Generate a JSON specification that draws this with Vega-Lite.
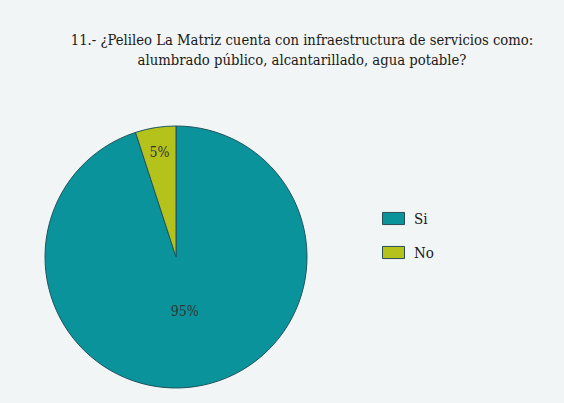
{
  "$schema": "https://vega.github.io/schema/vega-lite/v6.json",
  "width": 300,
  "height": 270,
  "autosize": {"type": "none"},
  "padding": {"left": 26, "top": 122, "right": 238, "bottom": 11},
  "background": "#f2f5f5",
  "title": {
    "text": ["11.- ¿Pelileo La Matriz cuenta con infraestructura de servicios como:", "alumbrado público, alcantarillado, agua potable?"],
    "font": "DejaVu Serif Condensed",
    "fontSize": 14.7,
    "fontWeight": "normal",
    "color": "#1a1a1a",
    "lineHeight": 20,
    "anchor": "middle",
    "frame": "group",
    "dx": 126,
    "offset": 54
  },
  "data": {
    "values": [
      {"categoria": "Si", "porcentaje": 95, "etiqueta": "95%"},
      {"categoria": "No", "porcentaje": 5, "etiqueta": "5%"}
    ]
  },
  "encoding": {
    "theta": {"field": "porcentaje", "type": "quantitative", "stack": true},
    "order": {"field": "porcentaje", "sort": "descending"}
  },
  "layer": [
    {
      "mark": {"type": "arc", "outerRadius": 131, "stroke": "#1d5560", "strokeWidth": 1},
      "encoding": {
        "color": {
          "field": "categoria",
          "type": "nominal",
          "sort": ["Si", "No"],
          "scale": {"domain": ["Si", "No"], "range": ["#0b939b", "#b4c21b"]},
          "legend": {
            "title": null,
            "orient": "none",
            "legendX": 356,
            "legendY": 85,
            "symbolType": "M-1,-0.55H1V0.55H-1Z",
            "symbolSize": 484,
            "symbolStrokeColor": "#2a4e55",
            "symbolStrokeWidth": 1,
            "symbolOpacity": 1,
            "labelFont": "DejaVu Serif Condensed",
            "labelFontSize": 15,
            "labelColor": "#1a1a1a",
            "labelOffset": 9,
            "rowPadding": 14
          }
        }
      }
    },
    {
      "mark": {"type": "text", "radius": 56, "font": "DejaVu Serif Condensed", "fontSize": 14, "color": "#333333"},
      "encoding": {
        "text": {"condition": {"test": "datum.categoria === 'Si'", "field": "etiqueta"}, "value": ""}
      }
    },
    {
      "mark": {"type": "text", "radius": 105, "font": "DejaVu Serif Condensed", "fontSize": 14, "color": "#333333"},
      "encoding": {
        "text": {"condition": {"test": "datum.categoria === 'No'", "field": "etiqueta"}, "value": ""}
      }
    }
  ]
}
